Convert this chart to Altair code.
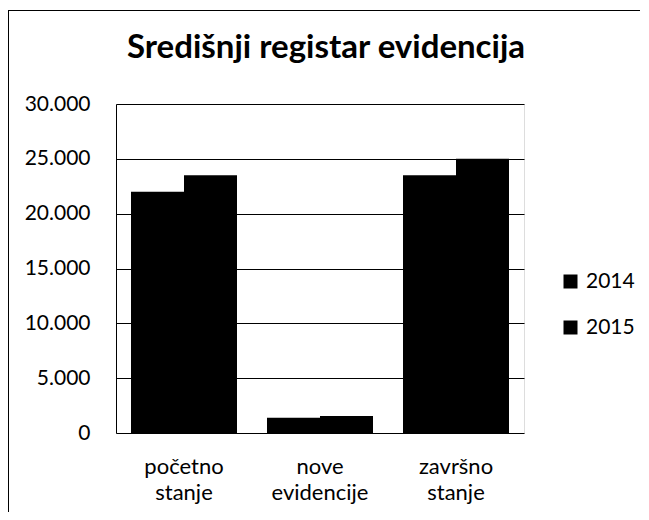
import altair as alt
import pandas as pd

categories = ["početno stanje", "nove evidencije", "završno stanje"]
years = ["2014", "2015"]
values_2014 = [22000, 1400, 23500]
values_2015 = [23500, 1550, 25000]
title_text = "Središnji registar evidencija"

rows = []
for c, v in zip(categories, values_2014):
    rows.append({"kategorija": c, "godina": "2014", "vrijednost": v})
for c, v in zip(categories, values_2015):
    rows.append({"kategorija": c, "godina": "2015", "vrijednost": v})
df = pd.DataFrame(rows)

FONT = "Lato"

bars = alt.Chart(df).mark_bar(color="black").encode(
    x=alt.X("kategorija:N", sort=categories, title=None,
            scale=alt.Scale(paddingInner=0, paddingOuter=0),
            axis=alt.Axis(labelAngle=0, labelExpr="split(datum.label, ' ')",
                          labelFontSize=22, labelLineHeight=26, labelPadding=23,
                          labelColor="black", ticks=False, domain=False,
                          labelFont=FONT)),
    xOffset=alt.XOffset("godina:N", sort=years,
                        scale=alt.Scale(paddingOuter=0.283, paddingInner=0)),
    y=alt.Y("vrijednost:Q", title=None,
            scale=alt.Scale(domain=[0, 30000]),
            axis=alt.Axis(values=[0, 5000, 10000, 15000, 20000, 25000, 30000],
                          labelExpr="replace(format(datum.value, ','), ',', '.')",
                          labelFontSize=21, labelColor="black", labelPadding=26,
                          ticks=False, domain=True, domainColor="black",
                          gridColor="black", gridOpacity=1, labelFont=FONT)),
    color=alt.Color("godina:N", sort=years,
                    scale=alt.Scale(domain=years, range=["black", "black"]),
                    legend=alt.Legend(title=None, orient="none", legendX=444, legendY=167,
                                      symbolType="square", symbolSize=196,
                                      labelFontSize=21, labelColor="black",
                                      rowPadding=24, labelFont=FONT,
                                      symbolStrokeWidth=0, labelOffset=5)),
)

border_df = pd.DataFrame({"a": [0]})
top_border = alt.Chart(border_df).mark_rect(color="black", strokeWidth=0).encode(
    x=alt.value(-108), x2=alt.value(524), y=alt.value(-94), y2=alt.value(-93))
left_border = alt.Chart(border_df).mark_rect(color="black", strokeWidth=0).encode(
    x=alt.value(-108), x2=alt.value(-107), y=alt.value(-94), y2=alt.value(408))

title = alt.Chart(pd.DataFrame({"t": [title_text]})).mark_text(
    font=FONT, fontSize=33, fontWeight="bold", color="black",
    align="center", baseline="alphabetic"
).encode(text="t:N", x=alt.value(210), y=alt.value(-46))

chart = alt.layer(top_border, left_border, bars, title).properties(
    width=408, height=329,
    autosize=alt.AutoSizeParams(type="none"),
    padding={"left": 108, "top": 96, "right": 117, "bottom": 79},
).configure_view(stroke="black", strokeWidth=1).configure(background="white")

chart.save("out.html", embed_options={"renderer": "svg", "actions": False})
